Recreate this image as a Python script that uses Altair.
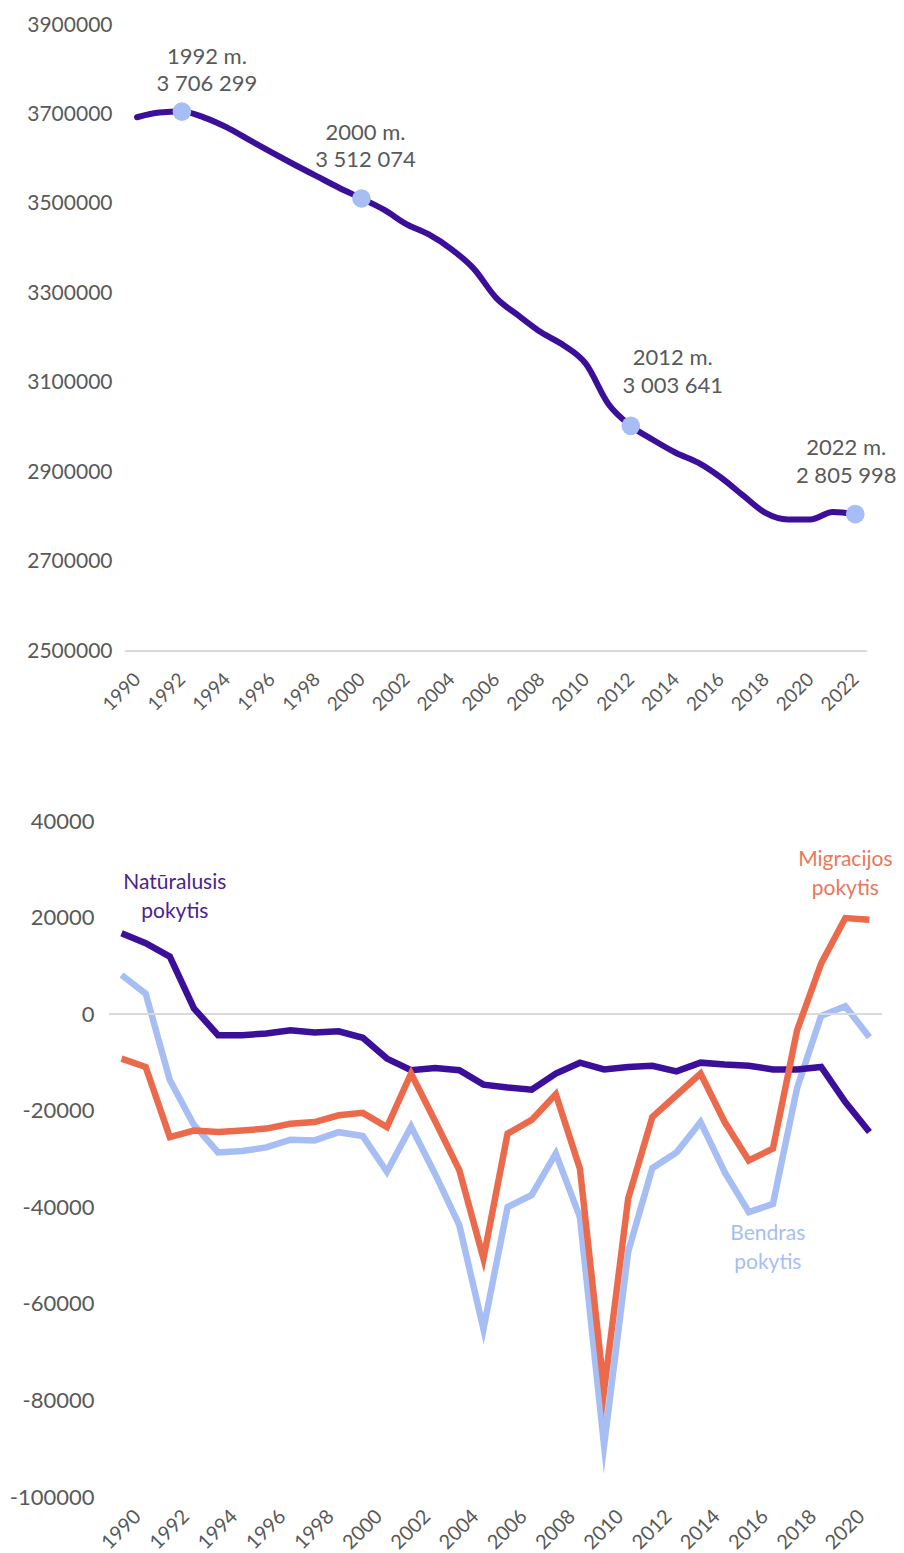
import altair as alt
import pandas as pd

# ---------------- data ----------------
years_pop = list(range(1990, 2023))
population = [3693708, 3704134, 3706299, 3693000, 3671000, 3643000, 3615000, 3588000,
              3562000, 3536000, 3512074, 3486998, 3454637, 3431497, 3398929, 3355220,
              3289835, 3249983, 3212605, 3183856, 3141976, 3052588, 3003641, 2971905,
              2943472, 2921262, 2888558, 2847904, 2808901, 2794184, 2794090, 2810761,
              2805998]
highlight_years = [1992, 2000, 2012, 2022]

years_chg = list(range(1990, 2022))
natural = [16750, 14700, 11900, 1200, -4350, -4350, -4000, -3350, -3800, -3550,
           -4900, -9200, -11600, -11150, -11600, -14600, -15200, -15650, -12300, -10050,
           -11450, -10950, -10700, -11850, -10050, -10450, -10700, -11450, -11450, -10950,
           -18200, -24400]
migration = [-9200, -10950, -25450, -24100, -24400, -24100, -23700, -22700, -22350, -20950,
             -20450, -23400, -12300, -22200, -32300, -50600, -24750, -21900, -16600, -32000,
             -77900, -38200, -21300, -16800, -12300, -22350, -30300, -27850, -3350, 10500,
             19900, 19550]
total = [8100, 4250, -13650, -22950, -28650, -28350, -27600, -26000, -26150, -24450,
         -25250, -32650, -23300, -33150, -43700, -65200, -39950, -37450, -28850, -42050,
         -89300, -49200, -31900, -28650, -22350, -32750, -41000, -39300, -15300, -350,
         1650, -4800]

pop_ticks = list(range(2500000, 3900001, 200000))
chg_ticks = list(range(-100000, 40001, 20000))
pop_label_years = list(range(1990, 2023, 2))
chg_label_years = list(range(1990, 2021, 2))

# ---------------- styles ----------------
FONT = "Lato"
GREY = "#595959"
RULE = "#d9d9d9"
PURPLE = "#3b0f9a"
BLUE = "#a6bef4"
ORANGE = "#ec6a4c"

def fmt_space(v):
    return f"{v:,}".replace(",", " ")

pop_df = pd.DataFrame({"year": years_pop, "pop": population})
hl_df = pop_df[pop_df["year"].isin(highlight_years)].copy()
hl_df["l1"] = hl_df["year"].astype(str) + " m."
hl_df["l2"] = hl_df["pop"].apply(fmt_space)

# ---------------- top chart ----------------
x_top_scale = alt.Scale(domain=[1988.7745, 2022.5], nice=False, zero=False)
x_top_axis = alt.Axis(values=pop_label_years, labelExpr="'' + datum.value",
                      labelAngle=-45, labelAlign="right", labelBaseline="middle",
                      grid=False, domain=False, ticks=False, tickSize=0,
                      labelFontSize=19, labelColor=GREY, labelPadding=25,
                      labelFont=FONT, labelOverlap=False, labelFlush=False,
                      title=None)
y_top_scale = alt.Scale(domain=[2500000, 3900000], nice=False, zero=False)
y_top_axis = alt.Axis(values=pop_ticks, labelExpr="'' + datum.value",
                      grid=False, domain=False, ticks=False, tickSize=0,
                      labelFontSize=21, labelColor=GREY, labelPadding=-2.5,
                      labelFont=FONT, title=None)

xs_top = alt.X("year:Q", scale=x_top_scale, axis=x_top_axis)
ys_top = alt.Y("pop:Q", scale=y_top_scale, axis=y_top_axis)

top_line = alt.Chart(pop_df).mark_line(color=PURPLE, strokeWidth=6, interpolate="monotone",
                                       strokeCap="round").encode(x=xs_top, y=ys_top)
top_rule = alt.Chart(pop_df).mark_rule(color=RULE, strokeWidth=1.5).encode(
    x=alt.datum(years_pop[0] - 0.5),
    x2=alt.datum(years_pop[-1] + 0.5),
    y=alt.datum(pop_ticks[0]),
)
top_pts = alt.Chart(hl_df).mark_circle(size=346, opacity=1, color=BLUE).encode(
    x=xs_top, y=ys_top)

label_offsets = {1992: (25, -41), 2000: (4, -52), 2012: (42, -54), 2022: (-9, -52)}
top_labels = []
for yr, (dx, dy) in label_offsets.items():
    sub = hl_df[hl_df["year"] == yr]
    t = alt.Chart(sub).mark_text(
        font=FONT, fontSize=22, color=GREY, align="center", baseline="middle",
        dx=dx, dy=dy - 13.75
    ).encode(x=xs_top, y=ys_top, text="l1:N")
    t2 = alt.Chart(sub).mark_text(
        font=FONT, fontSize=22, color=GREY, align="center", baseline="middle",
        dx=dx, dy=dy + 13.75
    ).encode(x=xs_top, y=ys_top, text="l2:N")
    top_labels += [t, t2]

top = alt.layer(top_line, top_rule, top_pts, *top_labels).properties(width=757, height=626)

# ---------------- bottom chart ----------------
chg_df = pd.DataFrame({"year": years_chg, "natural": natural,
                       "migration": migration, "total": total})

x_b_scale = alt.Scale(domain=[years_chg[0] - 0.5, years_chg[-1] + 0.5], nice=False, zero=False)
x_b_axis = alt.Axis(values=chg_label_years, labelExpr="'' + datum.value",
                    labelAngle=-45, labelAlign="right", labelBaseline="middle",
                    grid=False, domain=False, ticks=False, tickSize=0,
                    labelFontSize=20, labelColor=GREY, labelPadding=16,
                    labelOffset=16, labelFont=FONT, labelOverlap=False,
                    labelFlush=False, title=None)
y_b_scale = alt.Scale(domain=[-100000, 40000], nice=False, zero=False)
y_b_axis = alt.Axis(values=chg_ticks, labelExpr="'' + datum.value",
                    grid=False, domain=False, ticks=False, tickSize=0,
                    labelFontSize=22, labelColor=GREY, labelPadding=15.5,
                    labelFont=FONT, title=None)
xs_b = alt.X("year:Q", scale=x_b_scale, axis=x_b_axis)

base_b = alt.Chart(chg_df)

def series_line(field, color):
    return base_b.mark_line(color=color, strokeWidth=6.5, strokeJoin="miter",
                            strokeMiterLimit=14).encode(
        x=xs_b,
        y=alt.Y(f"{field}:Q", scale=y_b_scale, axis=y_b_axis))

l_total = series_line("total", BLUE)
l_nat = series_line("natural", PURPLE)
l_mig = series_line("migration", ORANGE)

zero_rule = base_b.mark_rule(color=RULE, strokeWidth=1.5).encode(y=alt.datum(0))

def series_label(field, yr, lines, color, dx, dy):
    return alt.Chart(chg_df[chg_df["year"] == yr]).mark_text(
        font=FONT, fontSize=21, color=color, align="center", baseline="middle",
        dx=dx, dy=dy, lineHeight=29, text=lines
    ).encode(x=xs_b, y=alt.Y(f"{field}:Q", scale=y_b_scale, axis=y_b_axis))

lab_nat = series_label("natural", 1992, ["Natūralusis", "pokytis"], "#4b2391", 5, -74)
lab_mig = series_label("migration", 2020, ["Migracijos", "pokytis"], "#e9785a", 0, -58)
lab_tot = series_label("total", 2016, ["Bendras", "pokytis"], BLUE, 19, 22)

bottom = alt.layer(l_total, zero_rule, l_nat, l_mig, lab_nat, lab_mig, lab_tot).properties(
    width=772, height=676)

chart = alt.vconcat(top, bottom, spacing=170, bounds="flush").properties(
    autosize=alt.AutoSizeParams(type="none"),
    padding={"left": 101.5, "top": 17, "right": 786.5, "bottom": 1528},
    background="white",
).configure(font=FONT).configure_view(stroke=None)

chart.save("out.html", embed_options={"renderer": "svg", "actions": False})
